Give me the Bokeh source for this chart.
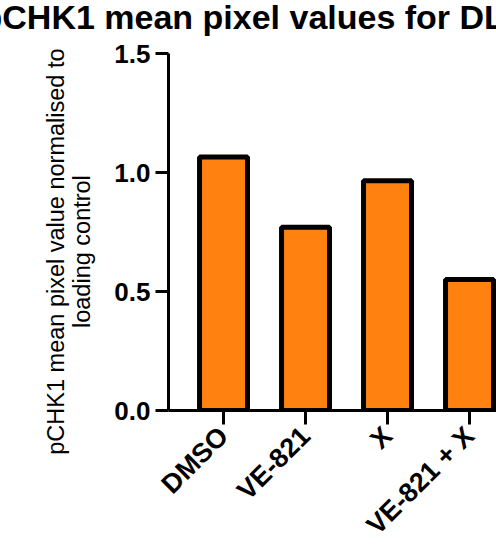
import math
from bokeh.plotting import figure
from bokeh.models import Range1d, FixedTicker, Title, PrintfTickFormatter
from bokeh.embed import file_html
from bokeh.resources import INLINE

categories = ["DMSO", "VE-821", "X", "VE-821 + X"]
values = [1.065, 0.77, 0.965, 0.55]
y_ticks = [0.0, 0.5, 1.0, 1.5]
title_text = "pCHK1 mean pixel values for DLD-1 cells"
ylabel_line1 = "pCHK1 mean pixel value normalised to"
ylabel_line2 = "loading control"

FONT = "Liberation Sans"
ORANGE = "#FF810F"
PAD = "\u00a0" * 6   # shifts the centred y label towards the bottom

xs = list(range(len(categories)))

p = figure(width=496, height=553, output_backend="svg", toolbar_location=None,
           title_location=None,
           x_range=Range1d(-0.671, 3.329), y_range=Range1d(0, 1.5),
           min_border_left=168, min_border_right=0, min_border_top=53,
           min_border_bottom=143)
p.outline_line_color = None
p.xgrid.visible = False
p.ygrid.visible = False
p.background_fill_color = "white"
p.border_fill_color = "white"

p.vbar(x=xs, top=values, bottom=0, width=0.585, fill_color=ORANGE,
       line_color="black", line_width=5)

# title (cropped on both sides in the reference); an empty spacer sits
# between the title and the frame
spacer = Title(text="\u00a0", text_font_size="1px", standoff=20)
main_title = Title(text=title_text, align="left", vertical_align="top",
                   offset=-187, standoff=-14, text_font=FONT,
                   text_font_style="bold", text_font_size="34px",
                   text_color="black")
p.add_layout(spacer, "above")
p.add_layout(main_title, "above")

# y axis
ya = p.yaxis[0]
ya.ticker = FixedTicker(ticks=y_ticks)
ya.formatter = PrintfTickFormatter(format="%.1f")
ya.minor_tick_line_color = None
ya.axis_line_width = 3
ya.major_tick_line_width = 3
ya.major_tick_out = 13
ya.major_tick_in = 0
ya.major_label_text_font = FONT
ya.major_label_text_font_style = "bold"
ya.major_label_text_font_size = "26px"
ya.major_label_text_color = "black"
ya.major_label_standoff = 5
ya.axis_label = ylabel_line1 + PAD + "\n" + ylabel_line2 + PAD
ya.axis_label_text_font = FONT
ya.axis_label_text_font_style = "normal"
ya.axis_label_text_font_size = "23.5px"
ya.axis_label_text_color = "black"
ya.axis_label_text_line_height = 1.0
ya.axis_label_standoff = 16

# x axis
xa = p.xaxis[0]
xa.ticker = FixedTicker(ticks=xs)
xa.major_label_overrides = {i: c for i, c in zip(xs, categories)}
xa.minor_tick_line_color = None
xa.axis_line_width = 3
xa.major_tick_line_width = 3
xa.major_tick_out = 14
xa.major_tick_in = 0
xa.major_label_orientation = math.pi / 4
xa.major_label_text_font = FONT
xa.major_label_text_font_style = "bold"
xa.major_label_text_font_size = "27px"
xa.major_label_text_color = "black"
xa.major_label_standoff = 7

open("out.html", "w").write(file_html(p, INLINE))
